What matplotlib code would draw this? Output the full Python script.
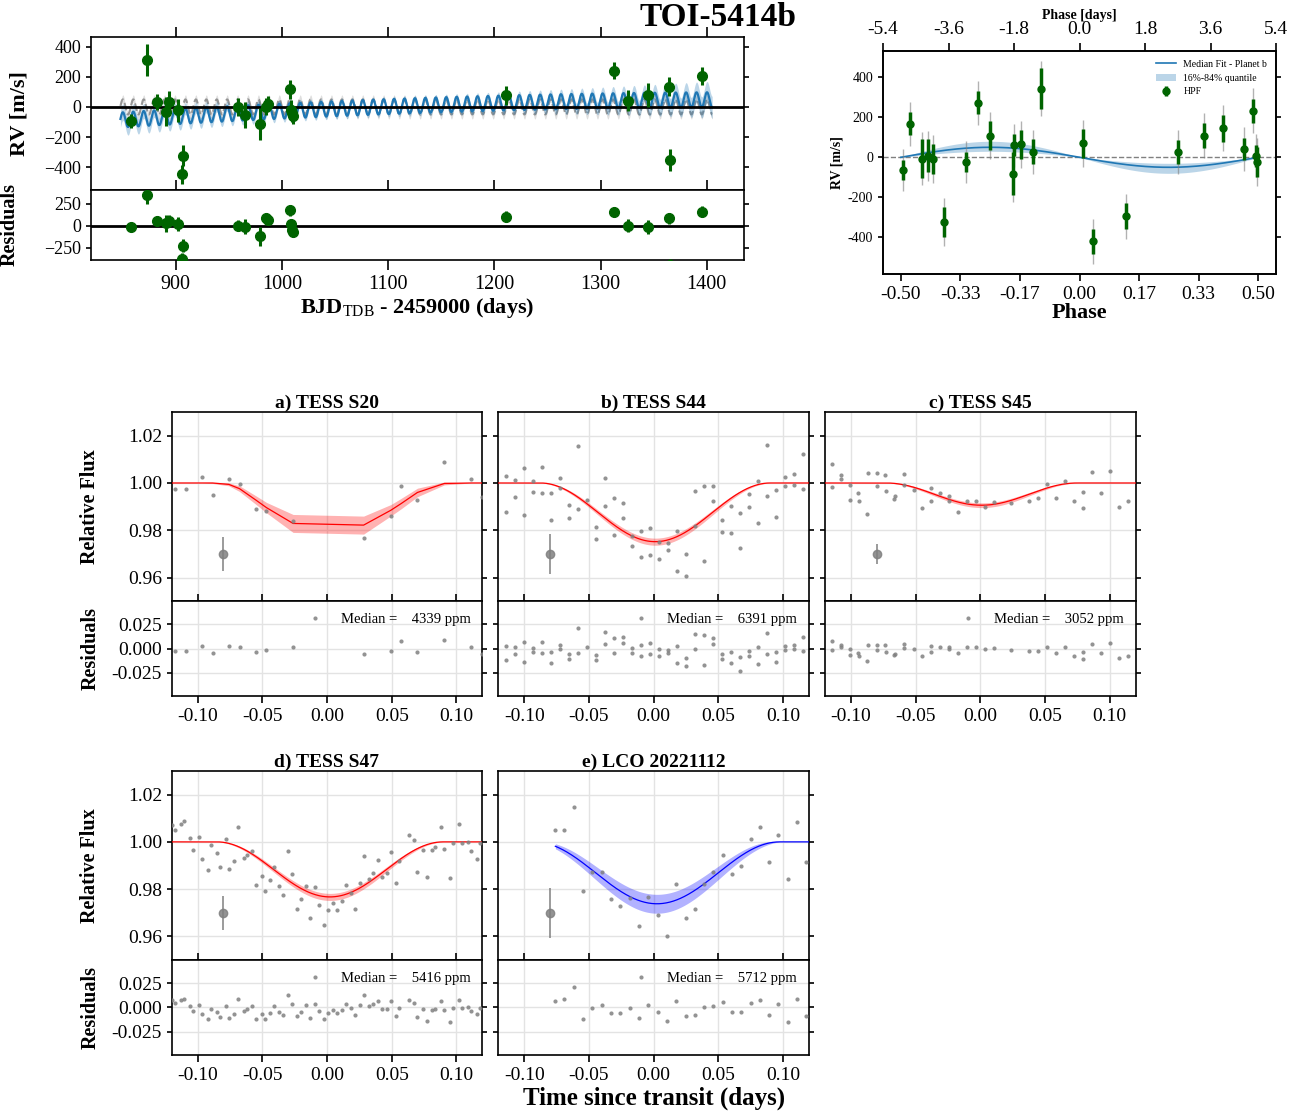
import numpy as np
import matplotlib
matplotlib.use('Agg')
import matplotlib.pyplot as plt
from matplotlib.lines import Line2D
from matplotlib.ticker import FuncFormatter, FormatStrFormatter

plt.rcParams['font.family'] = ['Liberation Serif', 'DejaVu Serif']
plt.rcParams['mathtext.fontset'] = 'custom'
plt.rcParams['mathtext.rm'] = 'Liberation Serif'
plt.rcParams['mathtext.bf'] = 'Liberation Serif:bold'
plt.rcParams['axes.unicode_minus'] = False
plt.rcParams['axes.linewidth'] = 1.2

# ---------------- RV time series data ----------------
rv_t = [857.7, 872.7, 882.7, 890.9, 893.6, 901.8, 907.3, 906.4, 958.7, 965.5, 979.6, 984.6,
        986.9, 1007.8, 1008.3, 1009.6, 1010.6, 1211.2, 1312.2, 1325.8, 1344.9, 1364.5, 1365.0, 1395.9]
rv_v = [-93, 312, 31, -33, 33, -22, -325, -446, -2, -53, -113, 2,
        20, 117, -20, -42, -60, 77, 241, 42, 77, 135, -351, 203]
rv_e = [44, 104, 52, 96, 73, 77, 70, 62, 60, 88, 108, 55,
        50, 64, 66, 55, 52, 63, 55, 72, 80, 64, 72, 60]
rv_res = [-19, 354, 54, 27, 54, 19, -227, -377, 0, -12, -123, 85,
          62, 177, 15, -50, -73, 104, 158, 0, -15, 85, -450, 162]

# ---------------- RV phase-folded data ----------------
ph_x = [-0.494, -0.474, -0.441, -0.425, -0.410, -0.380, -0.318, -0.285, -0.2515, -0.187, -0.183, -0.164,
        -0.130, -0.108, 0.011, 0.037, 0.130, 0.276, 0.348, 0.402, 0.461, 0.486, 0.495, 0.497]
ph_rv = [-65, 167, -7, 8, -8, -323, -23, 272, 108, -82, 60, 65,
         27, 343, 70, -420, -295, 27, 108, 145, 42, 233, 8, -23]
ph_err = [50, 58, 96, 82, 75, 73, 48, 57, 74, 108, 54, 72,
          62, 102, 72, 62, 65, 60, 64, 68, 56, 60, 54, 75]
rv_jitter = 93.0

# RV model parameters
P_days = 9.82
K_med, K_lo, K_hi = 50.0, 30.0, 80.0
T0_rv = 1000.0
trend_ref, trend_a, trend_b, trend_c = 1100.0, 2.0, 0.26, -3.6e-4
trend_band0, trend_band1 = 18.0, 40.0
t_model_range = (848.0, 1405.0)

# ---------------- Transit data ----------------
a_t = [-0.1175, -0.1093, -0.0967, -0.0884, -0.0758, -0.0676, -0.0550, -0.0468, -0.0262, 0.0283,
       0.0494, 0.0573, 0.0699, 0.0907, 0.1116, 0.1198]
a_f = [0.99747, 0.99761, 1.00239, 0.99508, 1.00155, 0.99958, 0.98904, 0.98819, 0.98398, 0.97681,
       0.98609, 0.99874, 0.99283, 1.00900, 1.00169, 0.99410]
a_model = [1.0, 1.0, 1.0, 1.0, 0.9994, 0.9976, 0.9928, 0.9896, 0.9829, 0.9822,
           0.9885, 0.9913, 0.9960, 0.9998, 1.0, 1.0]
a_band = [0, 0, 0, 0.0002, 0.0006, 0.0012, 0.0018, 0.0022, 0.0038, 0.0038,
          0.0024, 0.0022, 0.0018, 0.0006, 0, 0]

b_t = [-0.1140, -0.1140, -0.1073, -0.1073, -0.1003, -0.1003, -0.0931, -0.0931, -0.0862, -0.0862,
       -0.0792, -0.0792, -0.0723, -0.0723, -0.0653, -0.0653, -0.0584, -0.0584, -0.0517, -0.0448,
       -0.0448, -0.0378, -0.0378, -0.0306, -0.0306, -0.0237, -0.0237, -0.0167, -0.0167, -0.0098,
       -0.0098, -0.0028, -0.0028, 0.0041, 0.0041, 0.0111, 0.0111, 0.0180, 0.0180, 0.0250,
       0.0250, 0.0319, 0.0319, 0.0388, 0.0388, 0.0458, 0.0458, 0.0527, 0.0527, 0.0597,
       0.0597, 0.0666, 0.0666, 0.0736, 0.0736, 0.0805, 0.0805, 0.0875, 0.0875, 0.0944,
       0.0944, 0.1014, 0.1014, 0.1083, 0.1083, 0.1153, 0.1153]
b_f = [1.00298, 0.98766, 1.00142, 0.99418, 1.00624, 0.98638, 1.00085, 0.99631, 1.00681, 0.99574,
       0.99574, 0.98426, 1.00213, 0.99787, 0.99050, 0.98539, 1.01560, 0.98894, 0.99262, 0.98142,
       0.97617, 1.00227, 0.99007, 0.99362, 0.97801, 0.99149, 0.98525, 0.97773, 0.97333, 0.97972,
       0.96865, 0.98085, 0.96950, 0.97489, 0.96780, 0.97475, 0.97149, 0.97986, 0.96270, 0.96993,
       0.96085, 0.99645, 0.98170, 0.99858, 0.96723, 0.99858, 0.99220, 0.98454, 0.97943, 0.99007,
       0.97887, 0.98723, 0.97234, 0.99532, 0.98979, 1.00085, 0.98298, 1.01589, 0.99461, 0.99688,
       0.98582, 1.00255, 0.99887, 1.00383, 0.99915, 1.01234, 0.99759]

c_t = [-0.1146, -0.1146, -0.1079, -0.1074, -0.1010, -0.1008, -0.0944, -0.0936, -0.0872, -0.0867,
       -0.0800, -0.0800, -0.0733, -0.0728, -0.0664, -0.0659, -0.0590, -0.0590, -0.0515, -0.0451,
       -0.0382, -0.0382, -0.0313, -0.0244, -0.0244, -0.0174, -0.0105, -0.0036, 0.0033, 0.0103,
       0.0241, 0.0379, 0.0449, 0.0518, 0.0587, 0.0656, 0.0726, 0.0795, 0.0795, 0.0864,
       0.0933, 0.1003, 0.1072, 0.1141]
c_f = [1.00803, 0.99831, 1.00338, 1.00169, 0.99901, 0.99296, 0.99578, 0.99254, 0.98676, 1.00408,
       1.00408, 0.99859, 1.00352, 0.99676, 0.99338, 0.99437, 1.00394, 0.99930, 0.99718, 0.98930,
       0.99803, 0.99226, 0.99564, 0.99465, 0.99254, 0.98775, 0.99226, 0.99226, 0.98986, 0.99197,
       0.99155, 0.99254, 0.99366, 0.99958, 0.99380, 1.00099, 0.99254, 0.99620, 0.98958, 1.00479,
       0.99578, 1.00521, 0.98986, 0.99254]

d_t = [-0.1195, -0.1172, -0.1131, -0.1103, -0.1062, -0.1036, -0.0990, -0.0967, -0.0923, -0.0897,
       -0.0853, -0.0828, -0.0784, -0.0758, -0.0715, -0.0689, -0.0645, -0.0620, -0.0576, -0.0550,
       -0.0506, -0.0481, -0.0437, -0.0411, -0.0368, -0.0342, -0.0298, -0.0272, -0.0229, -0.0203,
       -0.0159, -0.0134, -0.0090, -0.0064, -0.0021, 0.0005, 0.0049, 0.0075, 0.0118, 0.0144,
       0.0188, 0.0213, 0.0257, 0.0283, 0.0326, 0.0352, 0.0396, 0.0422, 0.0465, 0.0491,
       0.0535, 0.0560, 0.0630, 0.0674, 0.0699, 0.0743, 0.0769, 0.0812, 0.0838, 0.0882,
       0.0907, 0.0951, 0.0977, 0.1021, 0.1046, 0.1090, 0.1116, 0.1159, 0.1185]
d_f = [1.00709, 1.00496, 1.00738, 1.00865, 1.00156, 0.99674, 1.00213, 0.99262, 0.98794, 0.99858,
       0.99532, 0.98950, 1.00113, 0.98865, 0.99191, 1.00638, 0.99305, 0.99433, 0.99617, 0.98170,
       0.98539, 0.97915, 0.98397, 0.98936, 0.98142, 0.97759, 0.99617, 0.98624, 0.97177, 0.97589,
       0.98128, 0.96780, 0.98085, 0.97348, 0.96468, 0.97135, 0.97404, 0.97135, 0.97489, 0.98170,
       0.97844, 0.97163, 0.98270, 0.99390, 0.98411, 0.98695, 0.99234, 0.98525, 0.98667, 0.99589,
       0.98270, 0.99177, 1.00298, 1.00085, 0.98738, 0.99645, 0.98511, 0.99645, 0.99787, 1.00638,
       0.99716, 0.98482, 0.99943, 1.00752, 0.99943, 1.00000, 0.99617, 0.99262, 0.99943]

e_t = [-0.0759, -0.0690, -0.0618, -0.0543, -0.0474, -0.0402, -0.0329, -0.0257, -0.0185, -0.0113,
       -0.0041, 0.0031, 0.0103, 0.0175, 0.0247, 0.0319, 0.0389, 0.0461, 0.0533, 0.0605,
       0.0677, 0.0749, 0.0821, 0.0891, 0.0963, 0.1035, 0.1107, 0.1176]
e_f = [1.00482, 1.00482, 1.01489, 0.97929, 0.98723, 0.98723, 0.97589, 0.97291, 0.97617, 0.96440,
       0.97660, 0.96894, 0.96014, 0.98227, 0.96794, 0.97177, 0.98213, 0.98709, 0.99433, 0.98624,
       0.98979, 1.00142, 1.00624, 0.99149, 1.00298, 0.98440, 1.00851, 0.99149]

# transit model parameters: (centre, half-duration, depth, band half-width)
transit_pars = {
    'b': (0.00125, 0.08875, 0.0248, 0.0015),
    'c': (0.0010, 0.0737, 0.0094, 0.0010),
    'd': (0.0023, 0.0874, 0.0233, 0.0015),
    'e': (0.0026, 0.0948, 0.0262, 0.0040),
}
panel_titles = ['a) TESS S20', 'b) TESS S44', 'c) TESS S45', 'd) TESS S47', 'e) LCO 20221112']
median_ppm = [4339, 6391, 3052, 5416, 5712]
typ_err = [0.0070, 0.0085, 0.0044, 0.0071, 0.0106]


def dip(t, tc, half, depth):
    x = (np.asarray(t) - tc) / half
    shape = np.where(np.abs(x) < 1, 0.5 * (1 + np.cos(np.pi * x)), 0.0)
    return 1 - depth * shape, shape


W, H = 1300.0, 1117.0


def box(l, t, r, b):
    return [l / W, 1 - b / H, (r - l) / W, (b - t) / H]


fig = plt.figure(figsize=(13, 11.17), dpi=100)

uminus = FuncFormatter(lambda v, p: f"{v:.0f}".replace('-', '\u2212'))

# ================= RV time series =================
ax_rv = fig.add_axes(box(90.7, 37.3, 744, 190))
ax_rr = fig.add_axes(box(90.7, 190, 744, 260))

tm = np.linspace(t_model_range[0], t_model_range[1], 5000)
phm = ((tm - T0_rv) / P_days + 0.5) % 1 - 0.5
sinm = np.sin(2 * np.pi * phm)
planet = -K_med * sinm
s = tm - trend_ref
trend = trend_a + trend_b * s + trend_c * s ** 2
hw = trend_band0 + trend_band1 * (s / 260.0) ** 2
full = planet + trend

ax_rv.fill_between(tm, -K_lo * sinm, -K_hi * sinm, color='grey', alpha=0.25, lw=0, zorder=1)
ax_rv.plot(tm, planet, color='grey', ls='--', lw=1.5, alpha=0.8, zorder=1.5)
ax_rv.fill_between(tm, full - hw, full + hw, color='#1f77b4', alpha=0.3, lw=0, zorder=2)
ax_rv.plot(tm, full, color='#1f77b4', lw=1.6, zorder=2.5)
ax_rv.axhline(0, color='k', lw=2, zorder=3)
ax_rv.errorbar(rv_t, rv_v, yerr=rv_e, fmt='o', color='#006400', ms=7, elinewidth=2.2,
               capsize=0, zorder=5)
ax_rv.set_xlim(820, 1435)
ax_rv.set_ylim(-551, 462)
ax_rv.set_yticks([-400, -200, 0, 200, 400])
ax_rv.yaxis.set_major_formatter(uminus)
ax_rv.set_xticks([900, 1000, 1100, 1200, 1300, 1400])
ax_rv.tick_params(axis='x', direction='out', top=True, bottom=False, labelbottom=False,
                  length=7, width=1.2)
ax_rv.tick_params(axis='y', direction='out', right=True, length=3.5, width=1.2, labelsize=13)
ax_rv.set_ylabel('RV [m/s]', fontsize=16, fontweight='bold')
ax_rv.yaxis.set_label_coords(-0.094, 0.5)

ax_rr.axhline(0, color='k', lw=2, zorder=3)
ax_rr.errorbar(rv_t, rv_res, yerr=rv_e, fmt='o', color='#006400', ms=7, elinewidth=2.2,
               capsize=0, zorder=5)
ax_rr.set_xlim(820, 1435)
ax_rr.set_ylim(-392, 408)
ax_rr.set_yticks([-250, 0, 250])
ax_rr.yaxis.set_major_formatter(uminus)
ax_rr.set_xticks([900, 1000, 1100, 1200, 1300, 1400])
ax_rr.tick_params(axis='x', direction='out', top=True, bottom=True, length=7, width=1.2,
                  labelsize=14.5)
ax_rr.tick_params(axis='y', direction='out', right=True, length=3.5, width=1.2, labelsize=13)
ax_rr.set_ylabel('Residuals', fontsize=14.5, fontweight='bold')
ax_rr.yaxis.set_label_coords(-0.108, 0.5)
ax_rr.set_xlabel(r'BJD$_{\mathrm{TDB}}$ - 2459000 (days)', fontsize=16, fontweight='bold',
                 labelpad=2)

# ================= RV phase folded =================
ax_ph = fig.add_axes(box(883, 51, 1276, 274))
pg = np.linspace(-0.5, 0.5, 600)
sg = np.sin(2 * np.pi * pg)
ax_ph.axhline(0, color='grey', ls='--', lw=1, zorder=1)
ax_ph.plot(pg, -K_med * sg, color='#1f77b4', lw=1.2, zorder=3, label='Median Fit - Planet b')
ax_ph.fill_between(pg, -K_lo * sg, -K_hi * sg, color='#1f77b4', alpha=0.3, lw=0, zorder=2,
                   label='16%-84% quantile')
tot_err = np.sqrt(np.asarray(ph_err, float) ** 2 + rv_jitter ** 2)
ax_ph.errorbar(ph_x, ph_rv, yerr=tot_err, fmt='none', ecolor='grey', elinewidth=1,
               alpha=0.6, capsize=0, zorder=4)
ax_ph.errorbar(ph_x, ph_rv, yerr=ph_err, fmt='o', color='#006400', ms=5, elinewidth=2.5,
               capsize=0, zorder=5, label='HPF')
ax_ph.set_xlim(-0.55, 0.55)
ax_ph.set_ylim(-583, 531)
ax_ph.set_xticks(np.linspace(-0.5, 0.5, 7))
ax_ph.xaxis.set_major_formatter(FormatStrFormatter('%.2f'))
ax_ph.set_yticks([-400, -200, 0, 200, 400])
ax_ph.tick_params(axis='x', direction='out', length=5, width=1.2, labelsize=14)
ax_ph.tick_params(axis='y', direction='out', right=True, length=3.5, width=1.2, labelsize=10)
ax_ph.set_xlabel('Phase', fontsize=16, fontweight='bold', labelpad=0)
ax_ph.set_ylabel('RV [m/s]', fontsize=10, fontweight='bold')
ax_ph.yaxis.set_label_coords(-0.10, 0.5)
ax_ph.legend(loc='upper right', fontsize=7, frameon=False)
ax_top = ax_ph.twiny()
ax_top.set_xlim(-5.4, 5.4)
ax_top.set_xticks(np.linspace(-5.4, 5.4, 7))
ax_top.xaxis.set_major_formatter(FormatStrFormatter('%.1f'))
ax_top.tick_params(axis='x', direction='out', length=6, width=1.2, labelsize=14)
ax_top.set_xlabel('Phase [days]', fontsize=10, fontweight='bold', labelpad=1)

# ================= Transits =================
col_left = [171.7, 498.3, 825.0]
col_w = 310.6
rows = [(412.0, 601.3, 695.7), (771.0, 960.0, 1054.7)]
layout = [(0, 0), (0, 1), (0, 2), (1, 0), (1, 1)]
data_t = [a_t, b_t, c_t, d_t, e_t]
data_f = [a_f, b_f, c_f, d_f, e_f]
keys = ['a', 'b', 'c', 'd', 'e']

for i, (r, c) in enumerate(layout):
    l = col_left[c]
    top, mid, bot = rows[r]
    axf = fig.add_axes(box(l, top, l + col_w, mid))
    axr = fig.add_axes(box(l, mid, l + col_w, bot))
    t = np.asarray(data_t[i])
    f = np.asarray(data_f[i])
    key = keys[i]
    color = 'blue' if key == 'e' else 'red'
    if key == 'a':
        mod_at = np.asarray(a_model)
        band = np.asarray(a_band)
        tg = np.concatenate([[-0.12], t])
        mg = np.concatenate([[1.0], mod_at])
        bg = np.concatenate([[0.0], band])
    else:
        tc, half, depth, bw = transit_pars[key]
        tstart = -0.0759 if key == 'e' else -0.12
        tg = np.linspace(tstart, 0.12, 500)
        mg, shp = dip(tg, tc, half, depth)
        bg = bw * np.sqrt(shp)
        mod_at, _ = dip(t, tc, half, depth)
    for ax in (axf, axr):
        ax.set_axisbelow(True)
        ax.grid(True, color='#e3e3e3', lw=1)
        ax.set_xlim(-0.12, 0.12)
        ax.set_xticks([-0.10, -0.05, 0.0, 0.05, 0.10])
    axf.fill_between(tg, mg - bg, mg + bg, color=color, alpha=0.3, lw=0, zorder=2)
    axf.plot(tg, mg, color=color, lw=0.9, zorder=3)
    axf.plot(t, f, 'o', color='grey', ms=3, mew=0, alpha=0.85, zorder=4)
    axf.errorbar([-0.08], [0.97], yerr=[typ_err[i]], fmt='o', color='grey', ms=6,
                 elinewidth=1.3, capsize=0, alpha=0.85, zorder=4)
    axf.set_ylim(0.95, 1.03)
    axf.set_yticks([0.96, 0.98, 1.00, 1.02])
    axf.yaxis.set_major_formatter(FormatStrFormatter('%.2f'))
    axf.tick_params(axis='x', bottom=False, labelbottom=False)
    axf.tick_params(axis='y', direction='out', right=True, length=3.5, width=1.2,
                    labelsize=14, labelleft=(c == 0))
    axf.set_title(panel_titles[i], fontsize=14, fontweight='bold', pad=3)

    resid = f - mod_at
    axr.plot(t, resid, 'o', color='grey', ms=3, mew=0, alpha=0.85, zorder=4)
    axr.set_ylim(-0.049, 0.049)
    axr.set_yticks([-0.025, 0.0, 0.025])
    axr.yaxis.set_major_formatter(FormatStrFormatter('%.3f'))
    axr.xaxis.set_major_formatter(FormatStrFormatter('%.2f'))
    axr.tick_params(axis='x', direction='out', top=True, length=5, width=1.2, labelsize=14)
    axr.tick_params(axis='y', direction='out', right=True, length=3.5, width=1.2,
                    labelsize=14, labelleft=(c == 0))
    h = Line2D([], [], marker='o', color='grey', ls='none', ms=3, mew=0, alpha=0.85)
    axr.legend([h], [f'Median =    {median_ppm[i]} ppm'], loc='upper right', frameon=False,
               fontsize=10.5, handletextpad=0.8, borderaxespad=0.4)
    if c == 0:
        axf.set_ylabel('Relative Flux', fontsize=14.5, fontweight='bold')
        axf.yaxis.set_label_coords(-0.23, 0.5)
        axr.set_ylabel('Residuals', fontsize=14.5, fontweight='bold')
        axr.yaxis.set_label_coords(-0.23, 0.5)

fig.text(654 / W, 1 - 1098 / H, 'Time since transit (days)', ha='center', va='center',
         fontsize=18, fontweight='bold')
fig.text(718 / W, 1 - 18 / H, 'TOI-5414b', ha='center', va='center', fontsize=24,
         fontweight='bold')

fig.savefig('out.png', dpi=100)
